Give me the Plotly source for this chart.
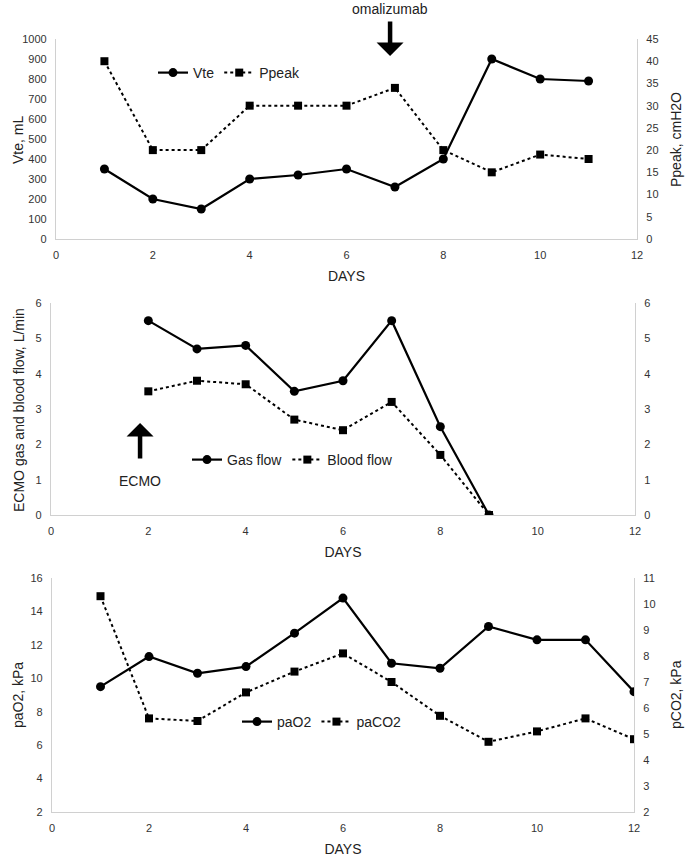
import plotly.graph_objects as go

W, H = 685, 857

# Panel 1
days1 = [1, 2, 3, 4, 5, 6, 7, 8, 9, 10, 11]
vte = [350, 200, 150, 300, 320, 350, 260, 400, 900, 800, 790]
ppeak = [40, 20, 20, 30, 30, 30, 34, 20, 15, 19, 18]

# Panel 2
days2 = [2, 3, 4, 5, 6, 7, 8, 9]
gas_flow = [5.5, 4.7, 4.8, 3.5, 3.8, 5.5, 2.5, 0]
blood_flow = [3.5, 3.8, 3.7, 2.7, 2.4, 3.2, 1.7, 0]

# Panel 3
days3 = [1, 2, 3, 4, 5, 6, 7, 8, 9, 10, 11, 12]
pao2 = [9.5, 11.3, 10.3, 10.7, 12.7, 14.8, 10.9, 10.6, 13.1, 12.3, 12.3, 9.2]
paco2 = [10.3, 5.6, 5.5, 6.6, 7.4, 8.1, 7.0, 5.7, 4.7, 5.1, 5.6, 4.8]

TICKFONT = dict(family="Liberation Sans, Arial", size=11, color="#333333")
TITLEFONT = dict(family="Liberation Sans, Arial", size=14, color="#222222")
NARROW = dict(family="Liberation Sans, Arial", size=14, color="#222222")
AXCOL = "#d0d0d0"


def px_x(p):
    return p / W


def px_y(p):
    return 1 - p / H


fig = go.Figure()

solid = dict(color="black", width=2.2)
dotted = dict(color="black", width=2, dash="dot")
circ = dict(symbol="circle", size=9, color="black")
sq = dict(symbol="square", size=8, color="black")

fig.add_trace(go.Scatter(x=days1, y=vte, name="Vte", mode="lines+markers", line=solid, marker=circ,
                         xaxis="x", yaxis="y", legend="legend"))
fig.add_trace(go.Scatter(x=days1, y=ppeak, name="Ppeak", mode="lines+markers", line=dotted, marker=sq,
                         xaxis="x", yaxis="y2", legend="legend"))

fig.add_trace(go.Scatter(x=days2, y=gas_flow, name="Gas flow", mode="lines+markers", line=solid, marker=circ,
                         xaxis="x2", yaxis="y3", legend="legend2"))
fig.add_trace(go.Scatter(x=days2, y=blood_flow, name="Blood flow", mode="lines+markers", line=dotted, marker=sq,
                         xaxis="x2", yaxis="y4", legend="legend2"))

fig.add_trace(go.Scatter(x=days3, y=pao2, name="paO2", mode="lines+markers", line=solid, marker=circ,
                         xaxis="x3", yaxis="y5", legend="legend3"))
fig.add_trace(go.Scatter(x=days3, y=paco2, name="paCO2", mode="lines+markers", line=dotted, marker=sq,
                         xaxis="x3", yaxis="y6", legend="legend3"))


def xax(dom, anchor):
    return dict(domain=dom, anchor=anchor, range=[0, 12], dtick=2, tick0=0, showgrid=False, zeroline=False,
                showline=True, linecolor=AXCOL, linewidth=1.3, ticks="", tickfont=TICKFONT,
                automargin=False, ticklabelstandoff=6,
                title=dict(text="DAYS", font=NARROW, standoff=10))


def yax(dom, anchor, rng, dt, side="left", overlay=None):
    d = dict(domain=dom, anchor=anchor, range=rng, dtick=dt, showgrid=False, zeroline=False,
             showline=True, linecolor=AXCOL, linewidth=1.3, ticks="", tickfont=TICKFONT, side=side,
             automargin=False, ticklabelstandoff=6)
    if overlay:
        d["overlaying"] = overlay
    return d


xd1 = [px_x(56), px_x(637)]
xd2 = [px_x(51), px_x(635)]
xd3 = [px_x(52), px_x(634)]
yd1 = [px_y(239), px_y(39)]
yd2 = [px_y(515), px_y(303)]
yd3 = [px_y(812), px_y(578)]

fig.update_layout(
    width=W, height=H, margin=dict(l=0, r=0, t=0, b=0, autoexpand=False),
    paper_bgcolor="white", plot_bgcolor="white",
    xaxis=xax(xd1, "y"),
    xaxis2=xax(xd2, "y3"),
    xaxis3=xax(xd3, "y5"),
    yaxis=yax(yd1, "x", [0, 1000], 100),
    yaxis2=yax(yd1, "x", [0, 45], 5, side="right", overlay="y"),
    yaxis3=yax(yd2, "x2", [0, 6], 1),
    yaxis4=yax(yd2, "x2", [0, 6], 1, side="right", overlay="y3"),
    yaxis5=yax(yd3, "x3", [2, 16], 2),
    yaxis6=yax(yd3, "x3", [2, 11], 1, side="right", overlay="y5"),
    showlegend=True,
    legend=dict(orientation="h", x=px_x(153), y=px_y(73), yanchor="middle", xanchor="left",
                font=NARROW, bgcolor="rgba(0,0,0,0)", itemwidth=30),
    legend2=dict(orientation="h", x=px_x(187), y=px_y(460), yanchor="middle", xanchor="left",
                 font=NARROW, bgcolor="rgba(0,0,0,0)", itemwidth=30),
    legend3=dict(orientation="h", x=px_x(237), y=px_y(722), yanchor="middle", xanchor="left",
                 font=NARROW, bgcolor="rgba(0,0,0,0)", itemwidth=30),
)

# axis titles
for txt, xp, yp in [("Vte, mL", 18, 140), ("Ppeak, cmH2O", 676, 140),
                    ("ECMO gas and blood flow, L/min", 19, 410),
                    ("paO2, kPa", 18, 695), ("pCO2, kPa", 676, 695)]:
    fig.add_annotation(x=px_x(xp), y=px_y(yp), xref="paper", yref="paper", text=txt, textangle=-90,
                       showarrow=False, font=TITLEFONT, xanchor="center", yanchor="middle")

# omalizumab arrow
fig.add_annotation(x=6.9, xref="x", y=px_y(56), yref="paper", ax=0, ay=-36, showarrow=True,
                   arrowhead=1, arrowsize=1.0, arrowwidth=4.5, arrowcolor="black", text="")
fig.add_annotation(x=6.9, xref="x", y=px_y(9), yref="paper", text="omalizumab", showarrow=False,
                   font=NARROW, yanchor="middle")
# ECMO arrow
fig.add_annotation(x=1.83, xref="x2", y=px_y(423), yref="paper", ax=0, ay=37, showarrow=True,
                   arrowhead=1, arrowsize=1.0, arrowwidth=4.5, arrowcolor="black", text="")
fig.add_annotation(x=1.83, xref="x2", y=px_y(481), yref="paper", text="ECMO", showarrow=False,
                   font=NARROW, yanchor="middle")

fig.write_html("out.html", config={"displayModeBar": False},
               post_script="document.body.style.margin='0px';document.body.style.overflow='hidden';")
